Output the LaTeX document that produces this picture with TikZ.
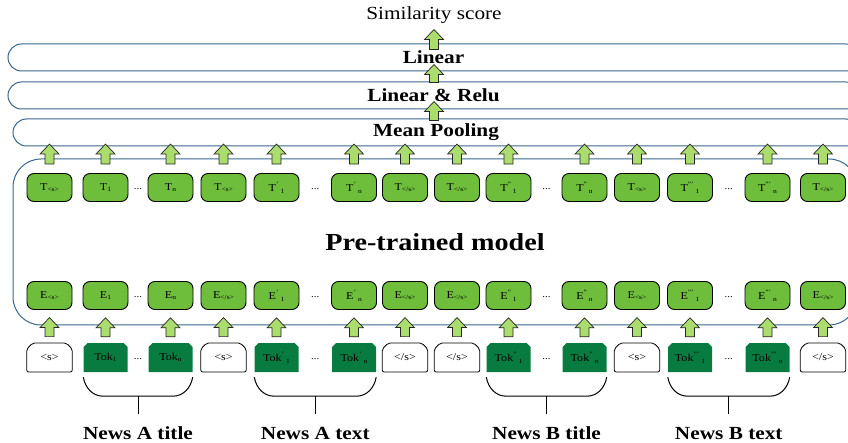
\documentclass[tikz,border=0pt]{standalone}
\usepackage{fontspec}
\setmainfont{Liberation Serif}[FakeStretch=1.15]
\usetikzlibrary{shapes.misc,calc}

\definecolor{barblue}{RGB}{56,104,140}
\definecolor{boxgreen}{RGB}{110,190,60}
\definecolor{tokgreen}{RGB}{8,124,64}
\definecolor{arrowgreen}{RGB}{170,220,110}

% small lowered / raised marks inside the boxes
\newcommand{\lowtxt}[1]{\raisebox{-0.35ex}{\fontsize{6.5}{7}\selectfont #1}}
\newcommand{\hightxt}[1]{\raisebox{1.1ex}{\fontsize{6.5}{7}\selectfont #1}}

\begin{document}
\begin{tikzpicture}
 [x=1pt, y=-1pt,
  bar/.style={draw=barblue, line width=1pt, rounded corners=13.5pt, minimum height=27pt, font=\fontsize{18.5}{20}\selectfont\bfseries},
  model box/.style={draw=barblue, line width=1pt, rounded corners=28pt, minimum width=844pt, minimum height=166pt, font=\fontsize{24.5}{26}\selectfont\bfseries},
  white tok/.style={chamfered rectangle, chamfered rectangle corners={north west,north east}, chamfered rectangle xsep=3pt, chamfered rectangle ysep=3pt, rounded corners=2pt, draw, line width=0.8pt, fill=white, minimum width=45.5pt, minimum height=29pt, inner sep=0pt, font=\fontsize{10.5}{11}\selectfont},
  green tok/.style={chamfered rectangle, chamfered rectangle corners={north west,north east}, chamfered rectangle xsep=2pt, chamfered rectangle ysep=2pt, fill=tokgreen, minimum width=44pt, minimum height=29pt, inner sep=0pt, font=\fontsize{10.5}{11}\selectfont},
  emb node/.style={node distance=62pt, rectangle, rounded corners=7pt, draw, line width=0.9pt, fill=boxgreen, minimum width=45pt, minimum height=28pt, inner sep=0pt, font=\fontsize{10.5}{11}\selectfont},
  dots/.style={font=\fontsize{9.5}{10}\selectfont, yshift=-1.5pt},
  bracket/.style={line width=1pt},
  news/.style={inner sep=0pt, anchor=base, font=\fontsize{18.5}{20}\selectfont\bfseries},
  pics/up arrow/.style={code={
    \filldraw[draw=black!85, fill=arrowgreen, line width=0.7pt, line join=miter]
      (-4.5,0) -- (-4.5,-#1+10) -- (-9.5,-#1+10) -- (0,-#1) -- (9.5,-#1+10) -- (4.5,-#1+10) -- (4.5,0) -- cycle;}}]

\useasboundingbox (0,0) rectangle (848,443);

% head layers
\node[font=\fontsize{18.5}{20}\selectfont] (score) at (434,15) {Similarity score};
\node[bar, minimum width=851pt] (lin) at (433.5,57.5) {Linear};
\node[bar, minimum width=851pt] (relu) at (433.5,95.5) {Linear \& Relu};
\node[bar, minimum width=846pt] (pool) at (436,132.5) {Mean Pooling};

\node[model box] (model) at (435,242) {Pre-trained model};

% input tokens
\node[white tok] (w1) at (49.5,357.5) {<s>};
\node[green tok] (w2) [node distance=56pt, right of=w1] {Tok\lowtxt{1}};
\node[green tok] (w3) [node distance=65pt, right of=w2] {Tok\lowtxt{n}};
\node[white tok] (w4) [node distance=53pt, right of=w3] {<s>};
\node[green tok] (w5) [node distance=53pt, right of=w4] {Tok\hightxt{'}\hspace{2pt}\lowtxt{1}};
\node[green tok] (w6) [node distance=77.5pt, right of=w5] {Tok\hightxt{'}\hspace{2pt}\lowtxt{n}};
\node[white tok] (w7) [node distance=51pt, right of=w6] {</s>};
\node[white tok] (w8) [node distance=52pt, right of=w7] {</s>};
\node[green tok] (w9) [node distance=51.5pt, right of=w8] {Tok\hightxt{''}\hspace{2pt}\lowtxt{1}};
\node[green tok] (w10) [node distance=76pt, right of=w9] {Tok\hightxt{''}\hspace{2pt}\lowtxt{n}};
\node[white tok] (w11) [node distance=52.5pt, right of=w10] {<s>};
\node[green tok] (w12) [node distance=53pt, right of=w11] {Tok\hightxt{'''}\hspace{2pt}\lowtxt{1}};
\node[green tok] (w13) [node distance=77.5pt, right of=w12] {Tok\hightxt{'''}\hspace{2pt}\lowtxt{n}};
\node[white tok] (w14) [node distance=55.5pt, right of=w13] {</s>};

% embeddings
\node[emb node] (e1) [above of=w1] {E\lowtxt{<s>}};
\node[emb node] (e2) [above of=w2] {E\lowtxt{1}};
\node[emb node] (e3) [above of=w3] {E\lowtxt{n}};
\node[emb node] (e4) [above of=w4] {E\lowtxt{</s>}};
\node[emb node] (e5) [above of=w5] {E\hightxt{'}\hspace{2pt}\lowtxt{1}};
\node[emb node] (e6) [above of=w6] {E\hightxt{'}\hspace{2pt}\lowtxt{n}};
\node[emb node] (e7) [above of=w7] {E\lowtxt{</s>}};
\node[emb node] (e8) [above of=w8] {E\lowtxt{</s>}};
\node[emb node] (e9) [above of=w9] {E\hightxt{''}\hspace{2pt}\lowtxt{1}};
\node[emb node] (e10) [above of=w10] {E\hightxt{''}\hspace{2pt}\lowtxt{n}};
\node[emb node] (e11) [above of=w11] {E\lowtxt{<s>}};
\node[emb node] (e12) [above of=w12] {E\hightxt{'''}\hspace{2pt}\lowtxt{1}};
\node[emb node] (e13) [above of=w13] {E\hightxt{'''}\hspace{2pt}\lowtxt{n}};
\node[emb node] (e14) [above of=w14] {E\lowtxt{</s>}};

% contextual outputs
\node[emb node] (t1) [node distance=108pt, above of=e1] {T\lowtxt{<s>}};
\node[emb node] (t2) [node distance=108pt, above of=e2] {T\lowtxt{1}};
\node[emb node] (t3) [node distance=108pt, above of=e3] {T\lowtxt{n}};
\node[emb node] (t4) [node distance=108pt, above of=e4] {T\lowtxt{<s>}};
\node[emb node] (t5) [node distance=108pt, above of=e5] {T\hightxt{'}\hspace{2pt}\lowtxt{1}};
\node[emb node] (t6) [node distance=108pt, above of=e6] {T\hightxt{'}\hspace{2pt}\lowtxt{n}};
\node[emb node] (t7) [node distance=108pt, above of=e7] {T\lowtxt{</s>}};
\node[emb node] (t8) [node distance=108pt, above of=e8] {T\lowtxt{</s>}};
\node[emb node] (t9) [node distance=108pt, above of=e9] {T\hightxt{''}\hspace{2pt}\lowtxt{1}};
\node[emb node] (t10) [node distance=108pt, above of=e10] {T\hightxt{''}\hspace{2pt}\lowtxt{n}};
\node[emb node] (t11) [node distance=108pt, above of=e11] {T\lowtxt{<s>}};
\node[emb node] (t12) [node distance=108pt, above of=e12] {T\hightxt{'''}\hspace{2pt}\lowtxt{1}};
\node[emb node] (t13) [node distance=108pt, above of=e13] {T\hightxt{'''}\hspace{2pt}\lowtxt{n}};
\node[emb node] (t14) [node distance=108pt, above of=e14] {T\lowtxt{</s>}};

% gaps in each sequence
\node[dots] (d1) at ($(w2)!.5!(w3)$) {...};
\node[dots] (d2) at ($(w5)!.5!(w6)$) {...};
\node[dots] (d3) at ($(w9)!.5!(w10)$) {...};
\node[dots] (d4) at ($(w12)!.5!(w13)$) {...};
\node[dots] (d5) at ($(e2)!.5!(e3)$) {...};
\node[dots] (d6) at ($(e5)!.5!(e6)$) {...};
\node[dots] (d7) at ($(e9)!.5!(e10)$) {...};
\node[dots] (d8) at ($(e12)!.5!(e13)$) {...};
\node[dots] (d9) at ($(t2)!.5!(t3)$) {...};
\node[dots] (d10) at ($(t5)!.5!(t6)$) {...};
\node[dots] (d11) at ($(t9)!.5!(t10)$) {...};
\node[dots] (d12) at ($(t12)!.5!(t13)$) {...};

% block arrows
\foreach \i in {1,...,14} {
  \pic at ([yshift=6pt]w\i.north) {up arrow=19};
  \pic at ([yshift=9pt]t\i.north) {up arrow=20};
}
\pic at ([xshift=-2pt,yshift=-2pt]pool.north) {up arrow=19};
\pic at ([xshift=0.5pt,yshift=-1pt]relu.north) {up arrow=18};
\pic at ([xshift=0.5pt,yshift=-6pt]lin.north) {up arrow=20};

% segment brackets
\coordinate (ba) at ($(w2.south west)!.5!(w3.south east)+(0,24)$);
\coordinate (bb) at ($(w5.south west)!.5!(w6.south east)+(0,24)$);
\coordinate (bc) at ($(w9.south west)!.5!(w10.south east)+(0,24)$);
\coordinate (bd) at ($(w12.south west)!.5!(w13.south east)+(0,24)$);
\draw[bracket] ([yshift=-5pt]w2.south west) to[out=-80,in=180] ([xshift=20pt,yshift=-24pt]w2.south west) -- ([xshift=-20pt,yshift=-24pt]w3.south east) to[out=0,in=-100] ([yshift=-5pt]w3.south east);
\draw[bracket] ([yshift=-5pt]w5.south west) to[out=-80,in=180] ([xshift=20pt,yshift=-24pt]w5.south west) -- ([xshift=-20pt,yshift=-24pt]w6.south east) to[out=0,in=-100] ([yshift=-5pt]w6.south east);
\draw[bracket] ([yshift=-5pt]w9.south west) to[out=-80,in=180] ([xshift=20pt,yshift=-24pt]w9.south west) -- ([xshift=-20pt,yshift=-24pt]w10.south east) to[out=0,in=-100] ([yshift=-5pt]w10.south east);
\draw[bracket] ([yshift=-5pt]w12.south west) to[out=-80,in=180] ([xshift=20pt,yshift=-24pt]w12.south west) -- ([xshift=-20pt,yshift=-24pt]w13.south east) to[out=0,in=-100] ([yshift=-5pt]w13.south east);

\node[news] (na) at ($(ba)+(0,43.5)$) {News A title};
\node[news] (nb) at ($(bb)+(0,43.5)$) {News A text};
\node[news] (nc) at ($(bc)+(0,43.5)$) {News B title};
\node[news] (nd) at ($(bd)+(0,43.5)$) {News B text};
\draw[bracket] (ba) -- ([yshift=13pt]na.north);
\draw[bracket] (bb) -- ([yshift=13pt]nb.north);
\draw[bracket] (bc) -- ([yshift=13pt]nc.north);
\draw[bracket] (bd) -- ([yshift=13pt]nd.north);

\end{tikzpicture}
\end{document}
